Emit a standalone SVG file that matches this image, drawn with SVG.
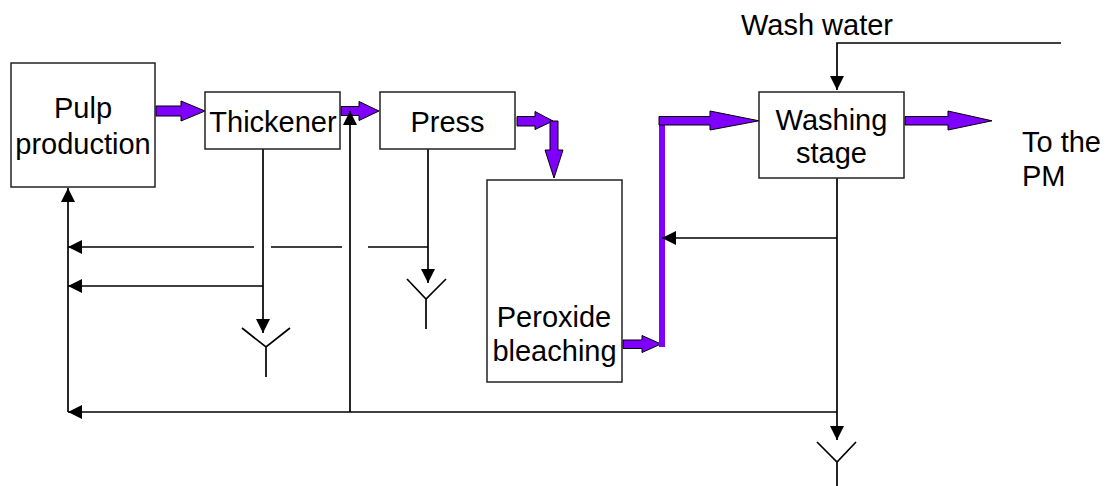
<svg xmlns="http://www.w3.org/2000/svg" width="1107" height="486" viewBox="0 0 1107 486">
<style>
.box{fill:#fff;stroke:#222;stroke-width:1.5}
.t{font-family:"Liberation Sans",Arial,sans-serif;font-size:29px;fill:#000}
.c{text-anchor:middle}
.ln{fill:none;stroke:#000;stroke-width:1.7}
.pa{fill:#7F00FF;stroke:#000;stroke-width:1}
.pl{fill:none;stroke:#7F00FF;stroke-width:6}
</style>
<defs>
<marker id="ah" markerUnits="userSpaceOnUse" markerWidth="14" markerHeight="14" viewBox="0 0 13 13" refX="13" refY="6.5" orient="auto">
<path d="M0,0 L13,6.5 L0,13 z" fill="#000"/>
</marker>
</defs>
<rect width="1107" height="486" fill="#fff"/>

<g id="connectors">
<!-- purple flow -->
<polygon class="pa" points="156,106 181,106 181,101 205,111 181,121 181,116 156,116"/>
<polygon class="pa" points="341,106.5 359,106.5 359,101.5 379,111 359,120.5 359,115.5 341,115.5"/>
<polygon class="pa" points="517,116.5 535,116.5 535,111.5 553,121 535,129.5 535,126 517,126"/>
<polygon class="pa" points="550,121 558,121 558,150 563,150 554,178 545,150 550,150"/>
<polygon class="pa" points="623,340 642,340 642,335.5 661,344 642,352.5 642,348.5 623,348.5"/>
<path class="pl" d="M662,347 V117"/>
<polygon class="pa" points="659,116.5 710,116.5 710,111 759,120.8 710,130 710,125 659,125"/>
<polygon class="pa" points="905,116.5 948,116.5 948,111 992,120.8 948,130 948,125 905,125"/>
<!-- black lines -->
<path class="ln" d="M1061,43 H837 V90" marker-end="url(#ah)"/>
<path class="ln" d="M837,178 V440" marker-end="url(#ah)"/>
<path class="ln" d="M837,238 H662" marker-end="url(#ah)"/>
<path class="ln" d="M837,412 H68" marker-end="url(#ah)"/>
<path class="ln" d="M68,412 V188" marker-end="url(#ah)"/>
<path class="ln" d="M350,412 V111" marker-end="url(#ah)"/>
<path class="ln" d="M263,149 V333" marker-end="url(#ah)"/>
<path class="ln" d="M263,286 H68" marker-end="url(#ah)"/>
<path class="ln" d="M428,149 V283" marker-end="url(#ah)"/>
<path class="ln" d="M428,247 H368 M342,247 H271"/>
<path class="ln" d="M254,247 H68" marker-end="url(#ah)"/>
<!-- Y drains -->
<path class="ln" d="M242,328 L266,347 L290,328 M266,347 V377"/>
<path class="ln" d="M407,279 L426,299 L446,279 M426,299 V329"/>
<path class="ln" d="M817,442 L837,462 L856,442 M837,462 V486"/>
</g>

<g id="pulp">
<rect class="box" x="11" y="63" width="144" height="124"/>
<text class="t c" x="83" y="118">Pulp</text>
<text class="t c" x="83" y="154">production</text>
</g>
<g id="thickener">
<rect class="box" x="205" y="92" width="135" height="57"/>
<text class="t c" x="273" y="132">Thickener</text>
</g>
<g id="press">
<rect class="box" x="380" y="92" width="135" height="57"/>
<text class="t c" x="447.5" y="132">Press</text>
</g>
<g id="peroxide">
<rect class="box" x="487" y="180" width="135" height="202"/>
<text class="t c" x="554" y="327">Peroxide</text>
<text class="t c" x="554.5" y="361">bleaching</text>
</g>
<g id="washing">
<rect class="box" x="759" y="92" width="145" height="86"/>
<text class="t c" x="831.5" y="130">Washing</text>
<text class="t c" x="831.5" y="163">stage</text>
</g>
<g id="labels">
<text class="t" x="741" y="35">Wash water</text>
<text class="t" x="1022" y="152">To the</text>
<text class="t" x="1022" y="186">PM</text>
</g>
</svg>
